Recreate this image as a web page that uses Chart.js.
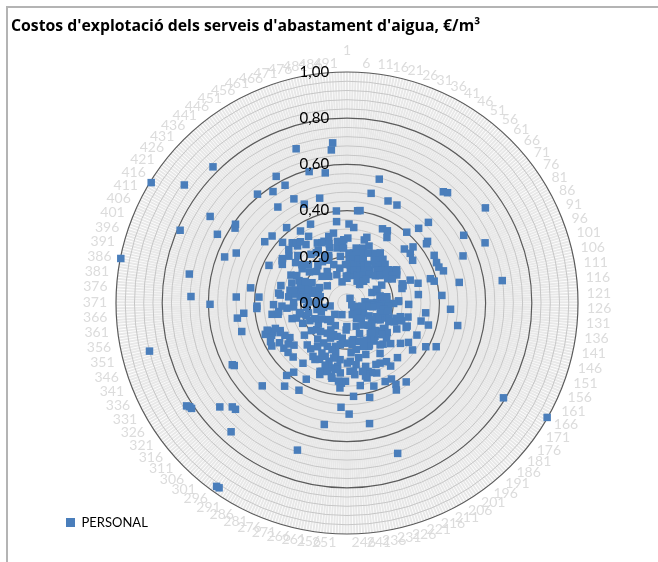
<!DOCTYPE html>
<html><head><meta charset="utf-8">
<style>
html,body{margin:0;padding:0;background:#fff;overflow:hidden}
#wrap{position:relative;width:658px;height:562px}
#frameTop{position:absolute;left:6px;top:6px;width:652px;height:2px;background:#b4b4b4}
#frameLeft{position:absolute;left:6px;top:6px;width:2px;height:556px;background:#b4b4b4}
canvas{position:absolute;left:0;top:0}
</style>
<script src="https://cdn.jsdelivr.net/npm/chart.js@4"></script>
</head><body>
<div id="wrap"><div id="frameTop"></div><div id="frameLeft"></div><canvas id="c" width="658" height="562"></canvas></div>
<script>
const categoryCount = 493;
const chartTitle = "Costos d'explotació dels serveis d'abastament d'aigua, €/m³";
const seriesName = "PERSONAL";
const idxNE=[20,17,30,37,11,9,56,58,76,82,91,93,109,112,62,60,55,35,40,43,7,2,72,73,68,64,71,78,84,90,94,98,101,104,102,96,97,103,114,117,23,21,29,22,13,1,3,10,18,25,32,41,46,4,12,19,28,44,50,54,5,14,26,33,39,49,57,61,8,16,31,38,48,59,65,70,75,77,6,15,27,42,52,63,69,74,80,83,51,85,95,92,108,116,120,45,118,123,89,107,111,122,115,121,100,0,34,53,47,86,81,79,36];
const valNE=[.554,.486,.476,.476,.404,.402,.637,.646,.727,.584,.652,.542,.494,.679,.496,.448,.401,.356,.358,.332,.328,.342,.439,.429,.375,.341,.348,.339,.430,.425,.427,.440,.376,.389,.319,.291,.253,.246,.311,.412,.297,.283,.264,.247,.241,.281,.216,.218,.222,.228,.235,.248,.260,.188,.190,.195,.201,.221,.232,.245,.166,.169,.173,.181,.190,.206,.220,.235,.142,.146,.153,.162,.174,.192,.207,.229,.247,.258,.119,.122,.129,.139,.156,.170,.186,.210,.228,.247,.118,.222,.139,.117,.147,.173,.224,.024,.078,.107,.140,.146,.174,.128,.158,.222,.254,.107,.104,.131,.097,.169,.205,.254,.129];
const idxSE=[166,164,221,232,245,128,139,228,241,206,196,159,163,172,157,154,144,142,133,174,168,182,190,141,143,125,188,199,200,207,212,205,211,204,222,226,234,220,229,235,224,239,242,129,131,134,140,175,176,185,169,146,145,150,155,156,147,148,153,152,183,170,178,191,173,192,202,233,218,237,231,240,219,230,246,223,215,227,238,243,194,208,225,214,236,151,149,177,167,165,179,158,160,138,186,171,198,209,216,217,247,201,195,197,210,180,135,184,203,213,124,136,130,127,132,137,161,162,181,187,189,193];
const valSE=[.792,.998,.687,.531,.481,.449,.489,.420,.405,.433,.427,.430,.390,.349,.333,.277,.365,.330,.343,.290,.316,.258,.237,.271,.238,.267,.322,.332,.306,.297,.294,.381,.378,.411,.378,.336,.362,.319,.303,.270,.286,.297,.253,.180,.138,.102,.066,.036,.082,.061,.130,.150,.172,.192,.165,.198,.222,.249,.220,.279,.148,.198,.189,.169,.216,.189,.188,.161,.201,.182,.205,.216,.237,.242,.260,.310,.329,.326,.312,.296,.231,.206,.172,.180,.166,.022,.045,.062,.084,.110,.139,.139,.161,.183,.173,.192,.202,.182,.143,.108,.102,.261,.165,.118,.210,.228,.111,.170,.078,.055,.202,.088,.115,.152,.087,.161,.243,.152,.204,.133,.092,.168];
const idxSW=[351,323,324,325,316,312,310,304,295,294,272,261,309,330,331,297,286,285,301,298,296,308,349,359,362,365,369,251,253,252,276,262,344,341,333,343,337,329,328,332,327,317,321,322,315,318,319,306,299,293,287,283,277,305,292,278,313,281,280,267,264,265,259,257,256,258,274,275,263,254,260,255,248,368,360,363,364,354,350,353,355,356,279,334,326,303,335,284,250,249,361,366,357,358,367,300,288,282,291,270,266,268,273,271,289,269,320,336,338,339,340,342,314,311,345,346,348,347,352];
const valSW=[.880,.813,.816,.825,.711,.670,.667,.750,.974,.973,.672,.535,.513,.558,.564,.450,.431,.374,.408,.378,.323,.330,.472,.479,.449,.391,.593,.452,.369,.348,.318,.332,.365,.379,.371,.329,.316,.375,.339,.303,.289,.293,.336,.310,.333,.195,.231,.250,.253,.228,.281,.242,.249,.168,.156,.149,.175,.168,.206,.194,.222,.245,.183,.153,.247,.277,.315,.331,.324,.304,.292,.340,.339,.318,.298,.261,.232,.207,.172,.133,.103,.074,.055,.155,.130,.107,.178,.110,.174,.117,.175,.282,.302,.328,.390,.201,.200,.271,.274,.264,.290,.308,.285,.212,.136,.151,.154,.211,.355,.313,.346,.351,.110,.072,.117,.184,.247,.228,.211];
const idxNW=[413,385,419,432,402,414,408,418,416,439,453,455,447,468,486,485,471,480,444,456,461,473,484,483,459,440,448,452,427,420,436,403,398,417,412,405,384,373,374,375,382,390,465,478,457,481,489,472,429,428,438,415,437,454,469,479,488,423,430,458,482,422,425,431,441,460,467,477,421,424,433,434,446,466,397,404,407,411,410,426,389,393,399,396,379,381,378,380,372,376,388,371,370,386,392,387,442,435,470,462,443,450,449,445,451,487,463,464,490,475,491,406,409,395,401,400,383,391,377,394];
const valNW=[.995,.998,.870,.827,.788,.701,.635,.591,.583,.610,.628,.576,.579,.703,.696,.666,.592,.571,.512,.506,.466,.469,.401,.355,.376,.418,.371,.333,.435,.444,.349,.526,.566,.339,.326,.375,.694,.676,.480,.382,.422,.296,.285,.308,.290,.270,.274,.299,.383,.342,.338,.335,.327,.261,.251,.242,.238,.323,.296,.226,.204,.283,.256,.235,.205,.203,.176,.154,.244,.211,.189,.158,.140,.130,.254,.229,.203,.175,.136,.113,.231,.196,.217,.176,.291,.299,.254,.204,.166,.188,.119,.231,.130,.177,.151,.253,.333,.352,.268,.283,.262,.255,.161,.309,.208,.247,.212,.220,.167,.094,.117,.271,.248,.205,.184,.149,.228,.206,.174,.130];

const categories = Array.from({length:categoryCount},(_,i)=>String(i+1));
const values = new Array(categoryCount).fill(null);
[[idxNE,valNE],[idxSE,valSE],[idxSW,valSW],[idxNW,valNW]].forEach(([ix,vs])=>ix.forEach((k,j)=>{values[k]=vs[j];}));

const isMajor = v => Math.round(v*100)%20===0;
const placer = {
  id:'placer',
  beforeUpdate(chart){
    const l=chart.legend;
    if(l && !l._patched){const f=l.fit;l.fit=function(){f.call(this);this.height=0;};l._patched=true;}
  },
  afterLayout(chart){
    const l=chart.legend;
    l.left=60;l.right=300;l.top=510;l.bottom=534;
    const t=chart.titleBlock;
    t.left=11;t.right=600;t.top=3;t.bottom=40;
    const s=chart.scales.r;
    s.xCenter=347;s.yCenter=303;s.drawingArea=231;
    const lh=14*1.2;
    s._pointLabelItems.forEach((it,i)=>{
      const a=s.getIndexAngle(i),sn=Math.sin(a),cs=Math.cos(a);
      const rad=i===0?253:240;
      it.x=347+sn*rad;it.y=303-cs*rad-lh/2;
      it.textAlign=Math.abs(sn)<0.01?'center':(sn>0?'left':'right');
      it.visible=true;
    });
  },
  beforeDraw(chart){chart.ctx.globalCompositeOperation='darken';},
  beforeDatasetsDraw(chart){chart.ctx.globalCompositeOperation='source-over';}
};
new Chart(document.getElementById('c'),{
  type:'radar',
  data:{labels:categories,datasets:[{label:seriesName,data:values,showLine:false,fill:false,borderWidth:0,
    pointStyle:'rect',pointRadius:5.3,pointHoverRadius:5.3,pointBorderWidth:0,
    pointBackgroundColor:'#4a7ebb',backgroundColor:'#4a7ebb',borderColor:'#4a7ebb'}]},
  options:{
    responsive:false,animation:false,
    layout:{padding:0},
    plugins:{
      tooltip:{enabled:false},
      title:{display:true,text:chartTitle,align:'start',color:'#000',padding:{top:14,bottom:5},
        font:{family:'Open Sans',size:15.8,weight:'bold'}},
      legend:{position:'bottom',align:'start',
        labels:{usePointStyle:true,pointStyle:'rect',boxWidth:9,boxHeight:9,padding:6,color:'#000',
          font:{family:'Lato',size:13}}}
    },
    scales:{r:{
      min:-0.0001,max:1,
      angleLines:{display:true,color:'#e8e8e8',lineWidth:2},
      grid:{circular:true,
        color:c=>isMajor(c.tick.value)?'#5a5a5a':'#c6c6c6',
        lineWidth:c=>isMajor(c.tick.value)?1.2:1},
      ticks:{stepSize:0.04,autoSkip:false,showLabelBackdrop:false,color:'#000',z:1,
        font:{family:'Lato',size:15},
        callback:v=>isMajor(v)?Math.abs(v).toFixed(2).replace('.',',')+' '.repeat(17):''},
      pointLabels:{display:true,padding:9,color:'#dcdcdc',font:{family:'Lato',size:14},
        callback:(lab)=>((+lab-1)%5===0?lab:'')}
    }}
  },
  plugins:[placer]
});
</script>
</body></html>
